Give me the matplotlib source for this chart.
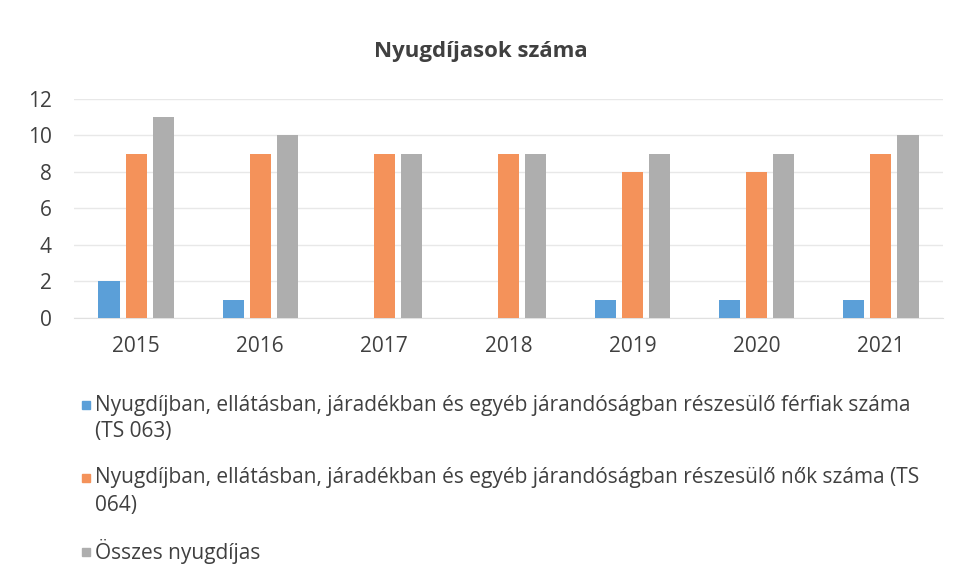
import numpy as np
import matplotlib
matplotlib.use("Agg")
import matplotlib.pyplot as plt
from matplotlib.patches import Rectangle

plt.rcParams['font.family'] = ['Open Sans', 'DejaVu Sans']

evek = ['2015', '2016', '2017', '2018', '2019', '2020', '2021']
ferfiak = [2, 1, 0, 0, 1, 1, 1]
nok = [9, 9, 9, 9, 8, 8, 9]
osszes = [11, 10, 9, 9, 9, 9, 10]

sorozat_nevek = [
    ['Nyugdíjban, ellátásban, járadékban és egyéb járandóságban részesülő férfiak száma', '(TS 063)'],
    ['Nyugdíjban, ellátásban, járadékban és egyéb járandóságban részesülő nők száma (TS', '064)'],
    ['Összes nyugdíjas'],
]
szinek = ['#5b9fd8', '#f4925a', '#aeaeae']

fig = plt.figure(figsize=(9.62, 5.82), dpi=100)
ax = fig.add_axes([74 / 962, 1 - 318 / 582, (943 - 74) / 962, (318 - 99) / 582])

x = np.arange(len(evek))
w = 0.17
off = 0.218
for i, (adat, szin) in enumerate(zip([ferfiak, nok, osszes], szinek)):
    ax.bar(x + (i - 1) * off, adat, width=w, color=szin, zorder=3)

ax.set_xlim(-0.5, len(evek) - 0.5)
ax.set_ylim(0, 12)
ax.set_yticks(range(0, 13, 2))
ax.set_xticks(x)
ax.set_xticklabels(evek)
ax.grid(axis='y', color='#e8e8e8', linewidth=1, zorder=0)
for s in ax.spines.values():
    s.set_visible(False)
ax.spines['bottom'].set_visible(True)
ax.spines['bottom'].set_color('#e0e0e0')
ax.tick_params(length=0, labelsize=15, colors='#404040')
ax.tick_params(axis='x', pad=13)
ax.tick_params(axis='y', pad=16)

fig.text(0.5, 1 - 51 / 582, 'Nyugdíjasok száma', ha='center', va='center',
         fontsize=16, fontweight='bold', color='#404040')

# jelmagyarazat kezzel
sor_y = [405, 478, 552]
for nev, szin, y0 in zip(sorozat_nevek, szinek, sor_y):
    fig.add_artist(Rectangle((82 / 962, 1 - (y0 + 4) / 582), 8 / 962, 8 / 582,
                             transform=fig.transFigure, color=szin))
    for j, sor in enumerate(nev):
        fig.text(95 / 962, 1 - (y0 + 27 * j) / 582, sor, ha='left', va='center',
                 fontsize=15, color='#404040')

fig.savefig('out.png', dpi=100)
